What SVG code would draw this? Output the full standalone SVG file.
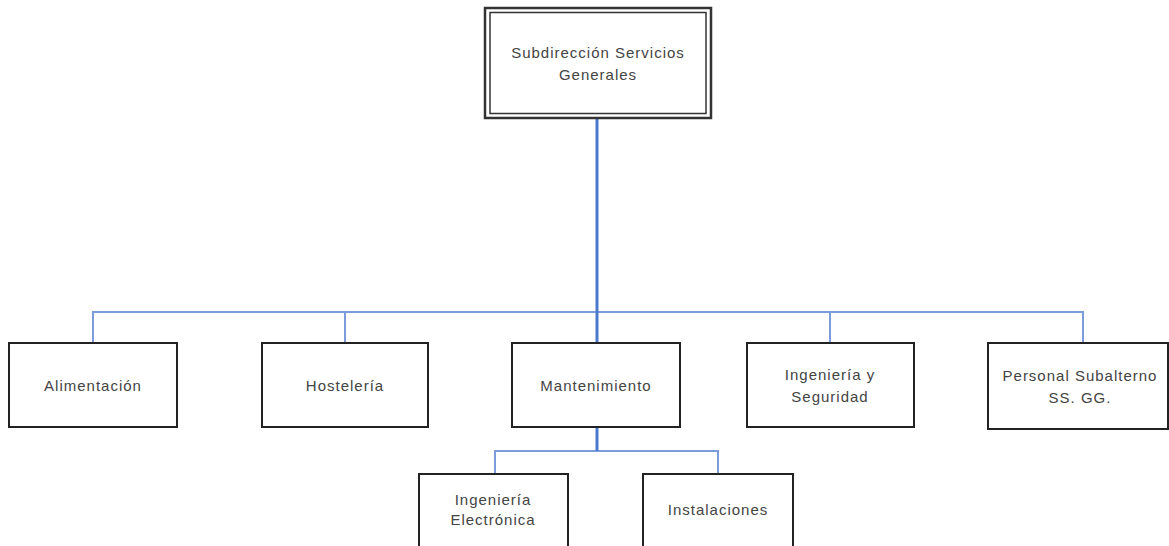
<svg xmlns="http://www.w3.org/2000/svg" width="1169" height="546" viewBox="0 0 1169 546">
<style>
.box{fill:#fff;stroke:#222;stroke-width:2}
.t{font-family:"Liberation Sans",Arial,sans-serif;font-size:15px;letter-spacing:1px;fill:#444;text-anchor:middle}
.main{fill:none;stroke:#4a78cc;stroke-width:3}
.c{fill:none;stroke:#7c9cdb;stroke-width:2}
</style>
<rect width="1169" height="546" fill="#fff"/>
<g id="connectors">
<path class="c" d="M93 343V312H1083V343M345 312V343M830 312V343"/>
<path class="main" d="M597 118V343"/>
<path class="c" d="M597 427V451M495 474V451H718V474"/>
<path class="main" d="M597 427V451"/>
</g>
<g id="n-top">
<rect x="485" y="8" width="226" height="110" fill="#fff" stroke="#333" stroke-width="2.5"/>
<rect x="490" y="12.5" width="216" height="101" fill="none" stroke="#333" stroke-width="1.5"/>
<text class="t" x="598" y="58">Subdirección Servicios</text>
<text class="t" x="598" y="80">Generales</text>
</g>
<g id="n-alimentacion">
<rect class="box" x="9" y="343" width="168" height="84"/>
<text class="t" x="93" y="391">Alimentación</text>
</g>
<g id="n-hosteleria">
<rect class="box" x="262" y="343" width="166" height="84"/>
<text class="t" x="345" y="391">Hostelería</text>
</g>
<g id="n-mantenimiento">
<rect class="box" x="512" y="343" width="168" height="84"/>
<text class="t" x="596" y="391">Mantenimiento</text>
</g>
<g id="n-ingenieria-seguridad">
<rect class="box" x="747" y="343" width="167" height="84"/>
<text class="t" x="830" y="380">Ingeniería y</text>
<text class="t" x="830" y="402">Seguridad</text>
</g>
<g id="n-personal">
<rect class="box" x="988" y="343" width="180" height="86"/>
<text class="t" x="1080" y="381">Personal Subalterno</text>
<text class="t" x="1080" y="403">SS. GG.</text>
</g>
<g id="n-ing-electronica">
<rect class="box" x="419" y="474" width="149" height="80"/>
<text class="t" x="493" y="505">Ingeniería</text>
<text class="t" x="493" y="525">Electrónica</text>
</g>
<g id="n-instalaciones">
<rect class="box" x="643" y="474" width="150" height="80"/>
<text class="t" x="718" y="515">Instalaciones</text>
</g>
</svg>
